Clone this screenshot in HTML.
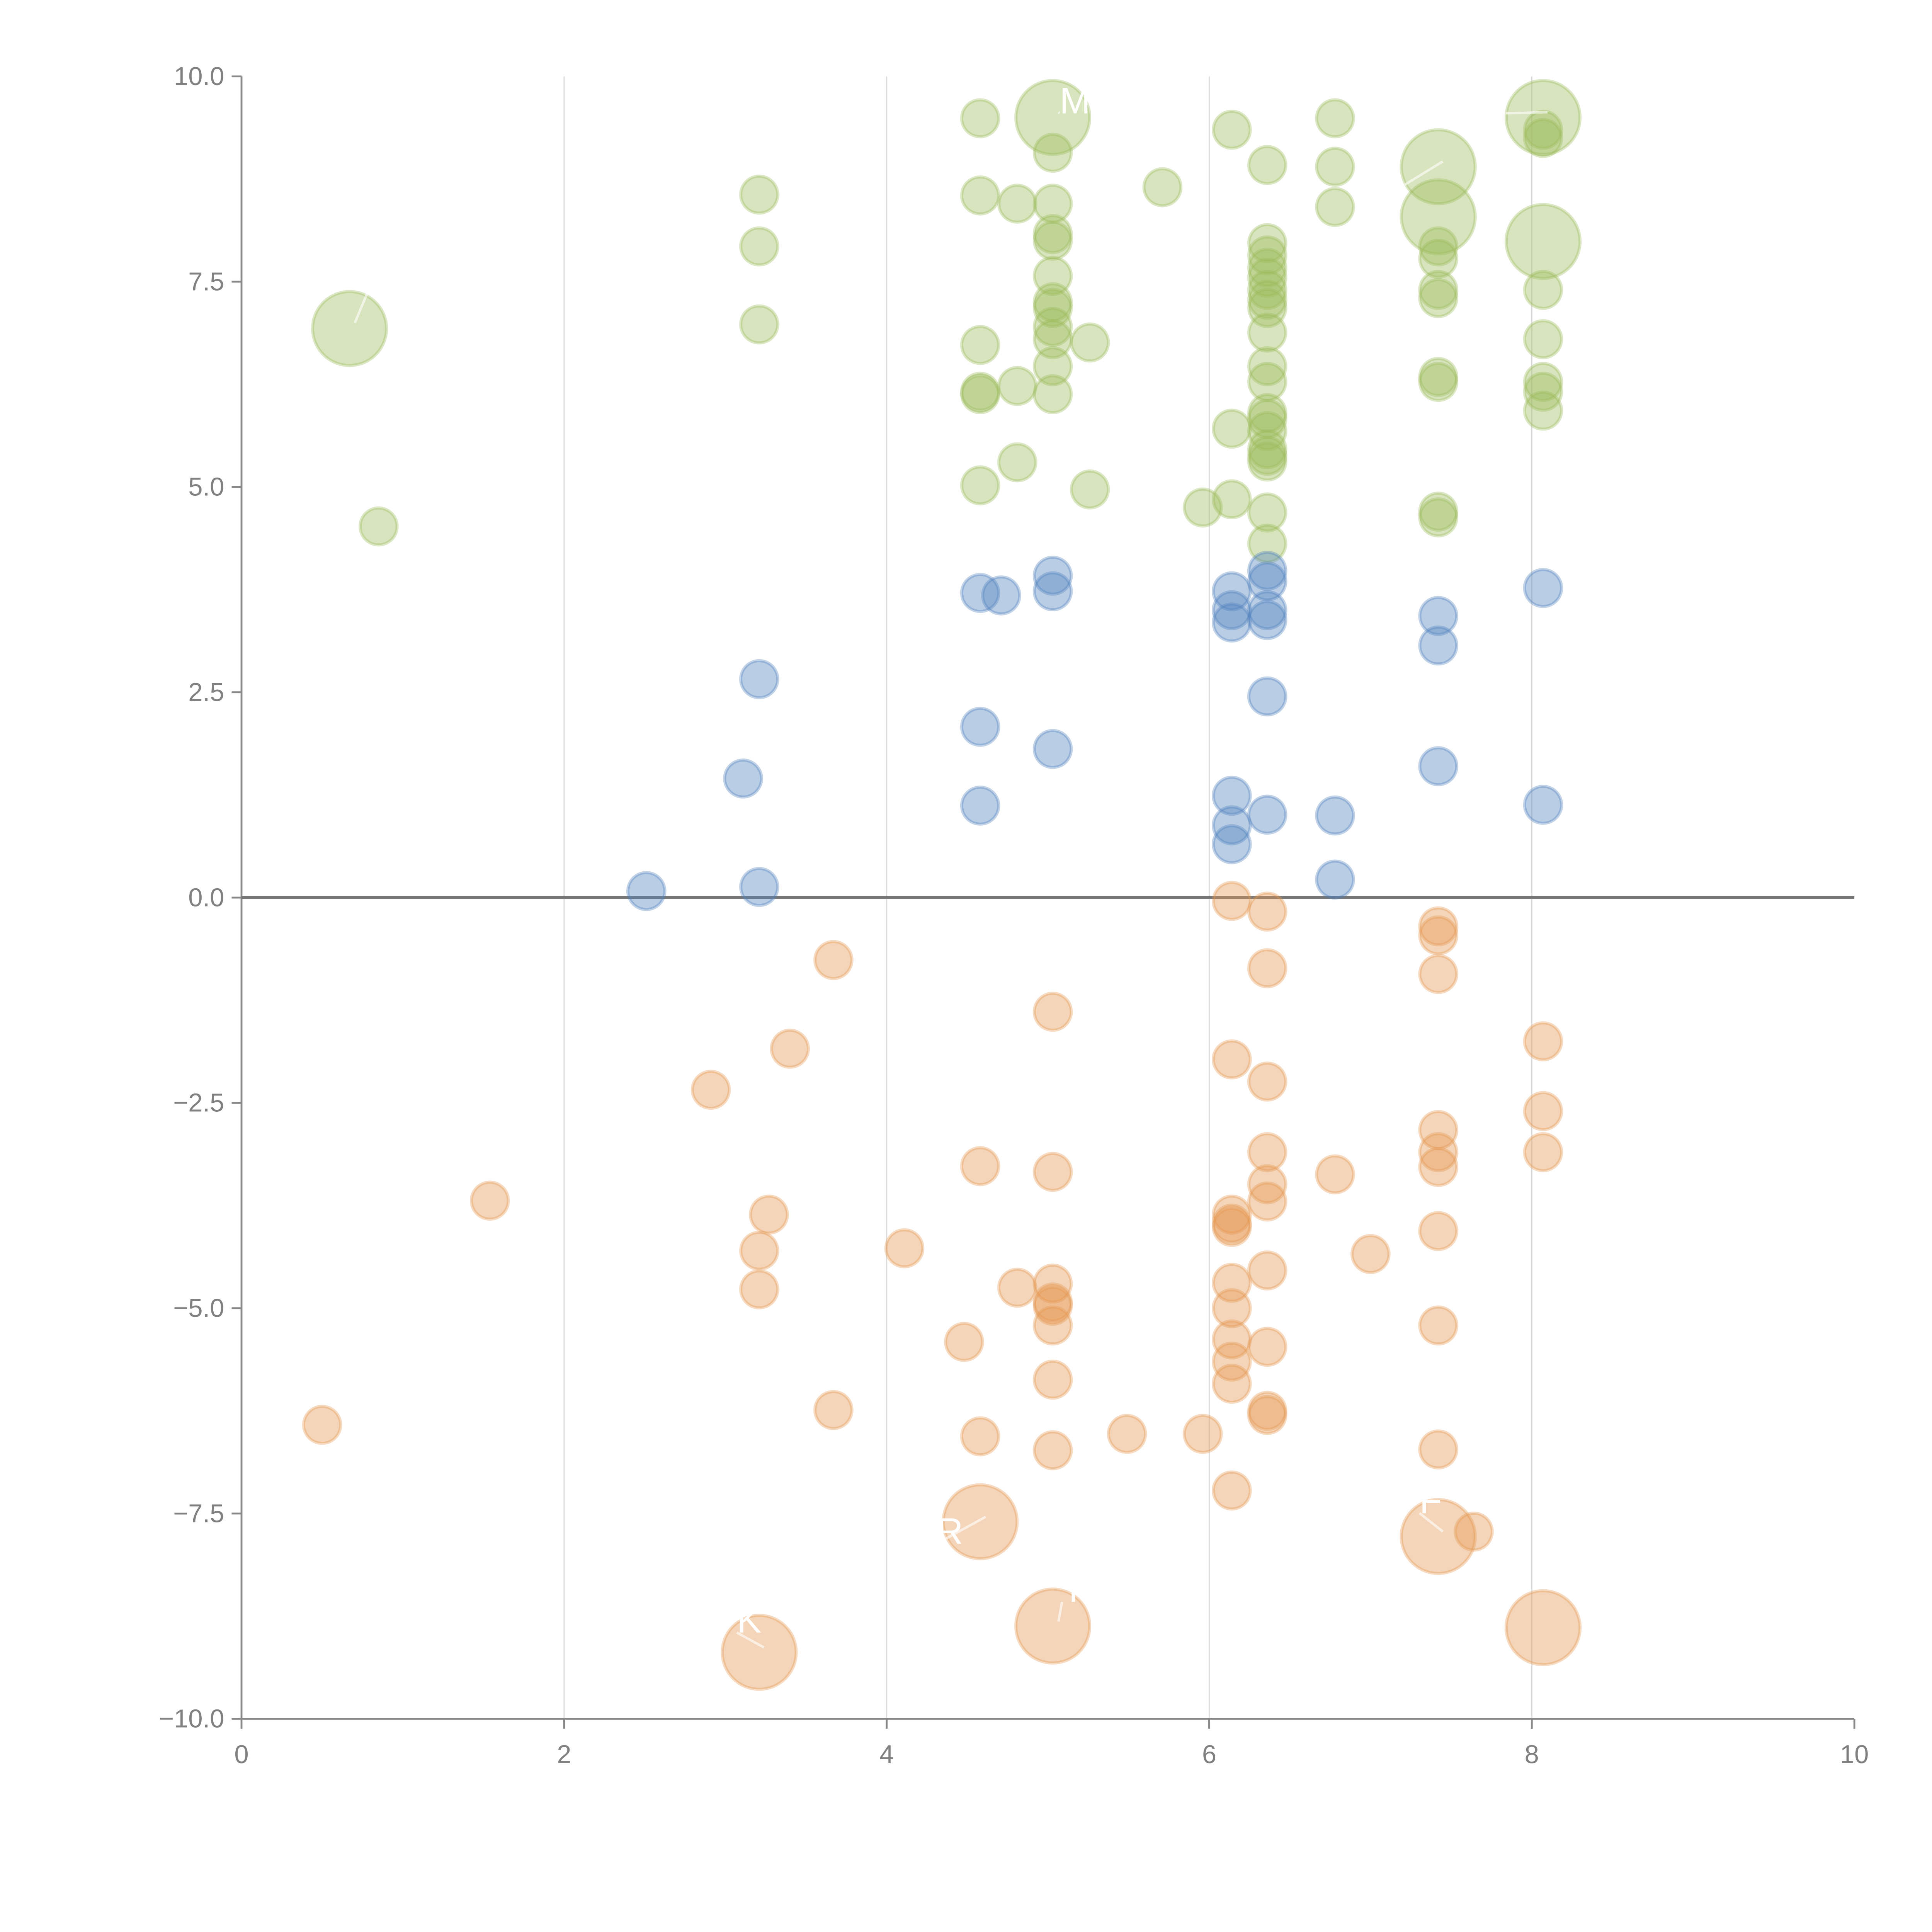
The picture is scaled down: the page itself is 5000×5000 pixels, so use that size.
<!DOCTYPE html>
<html><head><meta charset="utf-8"><style>
html,body{margin:0;padding:0;background:#fff}
svg{display:block}
text{font-family:"Liberation Sans",Arial,sans-serif}
</style></head><body>
<svg id="chart" width="5000" height="5000" viewBox="0 0 1568 1568" xmlns="http://www.w3.org/2000/svg">
<g id="grid"></g>
<g id="axes"></g>
<g id="marks"></g>
<g id="labels"></g>
</svg>
<script>
const xTicks=[0,2,4,6,8,10];
const yTicks=[10,7.5,5,2.5,0,-2.5,-5,-7.5,-10];
const yTickLabels=["10.0","7.5","5.0","2.5","0.0","\u22122.5","\u22125.0","\u22127.5","\u221210.0"];
const greenX=[0.67,0.85,3.21,3.21,3.21,4.58,4.58,4.81,5.03,5.03,5.03,5.03,5.03,5.03,5.03,5.03,5.03,5.03,5.03,5.03,5.26,5.71,4.58,4.58,4.58,4.81,4.81,4.58,5.26,5.96,6.14,6.14,6.14,6.36,6.36,6.36,6.36,6.36,6.36,6.36,6.36,6.36,6.36,6.36,6.36,6.36,6.36,6.36,6.36,6.36,6.36,6.36,6.78,6.78,6.78,7.42,7.42,7.42,7.42,7.42,7.42,7.42,7.42,7.42,7.42,8.07,8.07,8.07,8.07,8.07,8.07,8.07,8.07,8.07];
const greenY=[6.93,4.52,8.56,7.93,6.98,9.49,8.55,8.45,9.5,9.07,8.45,8.08,8.0,7.57,7.25,7.18,6.95,6.8,6.47,6.13,6.76,8.65,6.73,6.16,6.13,6.23,5.3,5.02,4.97,4.75,9.35,5.71,4.85,8.92,7.97,7.82,7.67,7.55,7.4,7.28,7.18,6.88,6.47,6.28,5.9,5.83,5.68,5.46,5.38,5.31,4.69,4.31,9.49,8.9,8.41,8.9,8.29,7.93,7.78,7.4,7.3,6.34,6.28,4.7,4.63,9.5,9.35,9.25,7.99,7.4,6.8,6.28,6.16,5.93];
const greenBig=[1,0,0,0,0,0,0,0,1,0,0,0,0,0,0,0,0,0,0,0,0,0,0,0,0,0,0,0,0,0,0,0,0,0,0,0,0,0,0,0,0,0,0,0,0,0,0,0,0,0,0,0,0,0,0,1,1,0,0,0,0,0,0,0,0,1,0,0,1,0,0,0,0,0];
const blueX=[2.51,3.21,3.11,3.21,4.58,4.71,4.58,4.58,5.03,5.03,5.03,6.14,6.14,6.14,6.14,6.14,6.14,6.36,6.36,6.36,6.36,6.36,6.36,6.78,6.78,7.42,7.42,7.42,8.07,8.07];
const blueY=[0.08,0.13,1.45,2.66,3.71,3.68,2.08,1.12,3.92,3.73,1.81,3.73,3.5,3.35,1.24,0.88,0.65,3.98,3.85,3.5,3.38,2.45,1.01,1.0,0.22,3.43,3.07,1.6,3.77,1.13];
const orangeX=[0.5,1.54,2.91,3.4,3.67,3.27,3.21,3.21,3.67,3.21,4.11,4.48,4.58,4.58,4.58,4.81,5.03,5.03,5.03,5.03,5.03,5.03,5.03,5.03,5.03,5.49,5.96,6.14,6.14,6.14,6.14,6.14,6.14,6.14,6.14,6.14,6.14,6.14,6.36,6.36,6.36,6.36,6.36,6.36,6.36,6.36,6.36,6.36,6.78,7.0,7.42,7.42,7.42,7.42,7.42,7.42,7.42,7.42,7.42,7.42,7.64,8.07,8.07,8.07,8.07];
const orangeY=[-6.42,-3.69,-2.34,-1.84,-0.76,-3.86,-4.3,-4.77,-6.24,-9.19,-4.27,-5.41,-3.27,-6.56,-7.6,-4.75,-1.39,-3.34,-4.7,-4.93,-4.97,-5.21,-5.87,-6.73,-8.87,-6.53,-6.53,-0.04,-1.97,-3.86,-3.97,-4.01,-4.69,-5.0,-5.38,-5.65,-5.92,-7.22,-0.17,-0.86,-2.24,-3.1,-3.49,-3.7,-4.54,-5.47,-6.25,-6.3,-3.37,-4.34,-0.35,-0.46,-0.93,-2.83,-3.1,-3.28,-4.06,-5.21,-6.72,-7.78,-7.72,-1.75,-2.6,-3.1,-8.89];
const orangeBig=[0,0,0,0,0,0,0,0,0,1,0,0,0,0,1,0,0,0,0,0,0,0,0,0,1,0,0,0,0,0,0,0,0,0,0,0,0,0,0,0,0,0,0,0,0,0,0,0,0,0,0,0,0,0,0,0,0,0,0,1,0,0,0,0,1];

const NS="http://www.w3.org/2000/svg";
const X0=196,X1=1505,YT=62,YB=1395;
function sx(v){return X0+(v-0)/10*(X1-X0);}
function sy(v){return YB-(v+10)/20*(YB-YT);}
function mk(tag,attrs,parent){const e=document.createElementNS(NS,tag);for(const k in attrs)e.setAttribute(k,attrs[k]);parent.appendChild(e);return e;}
const grid=document.getElementById('grid'),axes=document.getElementById('axes'),marks=document.getElementById('marks'),labels=document.getElementById('labels');

xTicks.forEach(t=>{
  if(t>0&&t<10){const g=mk('line',{x1:sx(t),x2:sx(t),y1:YT,y2:YB,stroke:'#dcdcdc','stroke-width':1},grid);
  
  }
  const tk=mk('line',{x1:sx(t),x2:sx(t),y1:YB,y2:YB+8,stroke:'#888','stroke-width':1.5},axes);
  
  
  const tx=mk('text',{x:sx(t),y:YB+36,'text-anchor':'middle','font-size':21,fill:'#808080'},axes);
  tx.textContent=String(t);
  
  
});
yTicks.forEach((t,i)=>{
  const tk=mk('line',{x1:X0-8,x2:X0,y1:sy(t),y2:sy(t),stroke:'#888','stroke-width':1.5},axes);
  
  
  const tx=mk('text',{x:X0-14,y:sy(t)+7,'text-anchor':'end','font-size':21,fill:'#808080'},axes);
  tx.textContent=yTickLabels[i];
  
  
});
const ya=mk('line',{x1:X0,x2:X0,y1:YT,y2:YB,stroke:'#888','stroke-width':1.5},axes);


const xa=mk('line',{x1:X0,x2:X1,y1:YB,y2:YB,stroke:'#888','stroke-width':1.5},axes);


const zl=mk('line',{x1:X0,x2:X1,y1:sy(0),y2:sy(0),stroke:'#777','stroke-width':2.5},axes);



function series(xs,ys,bigs,color,name){
  xs.forEach((x,i)=>{
    const r=(bigs&&bigs[i])?30:15;
    const c=mk('circle',{cx:sx(x),cy:sy(ys[i]),r:r,fill:color,'fill-opacity':0.4,stroke:color,'stroke-opacity':0.35,'stroke-width':2.5},marks);
    
    
  });
}
series(greenX,greenY,greenBig,'#9bbb59','green-bubble');
series(blueX,blueY,null,'#4f81bd','blue-bubble');
series(orangeX,orangeY,orangeBig,'#e59750','orange-bubble');

const lbl=[[284,266,298,238,'Q'],[855,95,860,92,'M'],[1252,95,1222,92,''],[1167,135,1140,150,''],[616,1341,598,1325,'K'],[796,1235,760,1253,'R'],[855,1320,862,1300,'T'],[1167,1247,1152,1228,'F']];
lbl.forEach(l=>{
  const ln=mk('line',{x1:l[0]+4,y1:l[1]-4,x2:l[2],y2:l[3],stroke:'#fff','stroke-opacity':0.6,'stroke-width':2},labels);
  
  
  if(l[4]){const t=mk('text',{x:l[2],y:l[3],'font-size':30,fill:'#fff'},labels);
  t.textContent=l[4];
  
  }
});
</script>
</body></html>
